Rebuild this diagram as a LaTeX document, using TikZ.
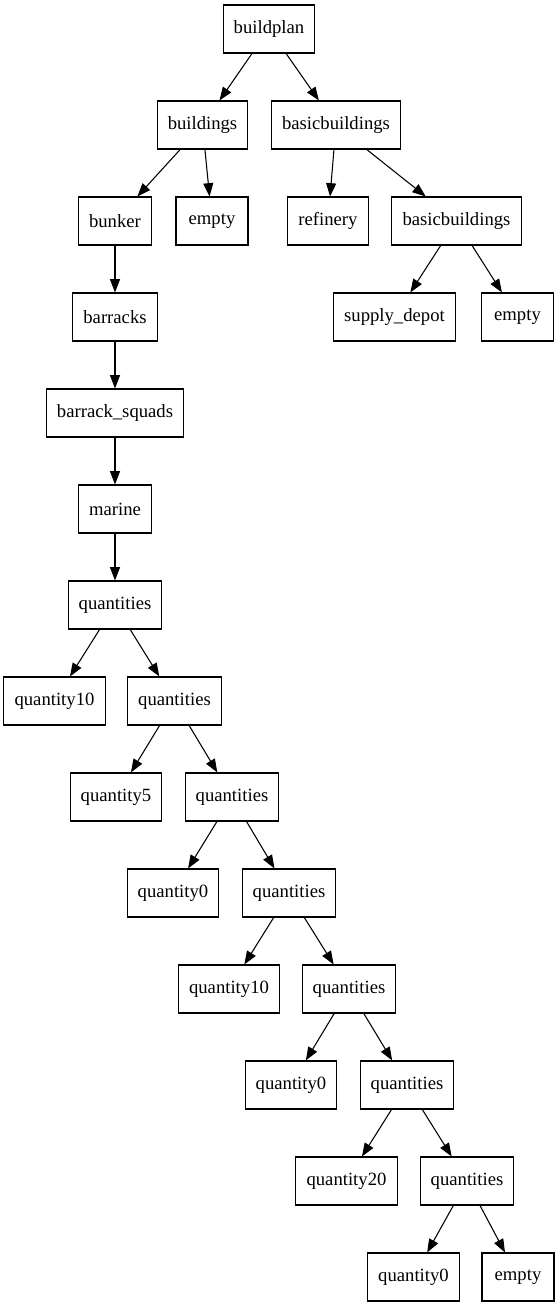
\documentclass[tikz,border=0pt]{standalone}
\usepackage{fontspec}
\setmainfont{Liberation Serif}
\usetikzlibrary{arrows.meta}
\begin{document}
\begin{tikzpicture}[x=0.75pt,y=-0.75pt,
  box/.style={draw,line width=0.8pt,rectangle,minimum height=36pt,minimum width=54pt,inner xsep=8pt,font=\fontsize{14pt}{16pt}\selectfont},
  edge/.style={line width=0.8pt,-{Triangle[length=10pt,width=7.5pt]}}]
\useasboundingbox (0,0) rectangle (560,1307);
\node[box] (bp) at (269,29) {buildplan};
\node[box] (bl) at (202.5,125) {buildings};
\node[box] (bb1) at (336,125) {basicbuildings};
\node[box] (bk) at (115,221) {bunker};
\node[box] (e1) at (212,221) {empty};
\node[box] (rf) at (328,221) {refinery};
\node[box] (bb2) at (456.5,221) {basicbuildings};
\node[box] (sd) at (394.5,317) {supply\_depot};
\node[box] (e2) at (517.5,317) {empty};
\node[box] (br) at (115,317) {barracks};
\node[box] (bs) at (115,413) {barrack\_squads};
\node[box] (mr) at (115,509) {marine};
\node[box] (q1) at (115,605) {quantities};
\node[box] (a1) at (54.5,701) {quantity10};
\node[box] (q2) at (174.5,701) {quantities};
\node[box] (a2) at (116,797) {quantity5};
\node[box] (q3) at (232,797) {quantities};
\node[box] (a3) at (173,893) {quantity0};
\node[box] (q4) at (289,893) {quantities};
\node[box] (a4) at (229,989) {quantity10};
\node[box] (q5) at (349,989) {quantities};
\node[box] (a5) at (291,1085) {quantity0};
\node[box] (q6) at (407,1085) {quantities};
\node[box] (a6) at (346.5,1181) {quantity20};
\node[box] (q7) at (467,1181) {quantities};
\node[box] (a7) at (413.5,1277) {quantity0};
\node[box] (e3) at (518,1277) {empty};
\draw[edge] (bp) -- (bl);
\draw[edge] (bp) -- (bb1);
\draw[edge] (bl) -- (bk);
\draw[edge] (bl) -- (e1);
\draw[edge] (bb1) -- (rf);
\draw[edge] (bb1) -- (bb2);
\draw[edge] (bb2) -- (sd);
\draw[edge] (bb2) -- (e2);
\draw[edge] (bk) -- (br);
\draw[edge] (br) -- (bs);
\draw[edge] (bs) -- (mr);
\draw[edge] (mr) -- (q1);
\draw[edge] (q1) -- (a1);
\draw[edge] (q1) -- (q2);
\draw[edge] (q2) -- (a2);
\draw[edge] (q2) -- (q3);
\draw[edge] (q3) -- (a3);
\draw[edge] (q3) -- (q4);
\draw[edge] (q4) -- (a4);
\draw[edge] (q4) -- (q5);
\draw[edge] (q5) -- (a5);
\draw[edge] (q5) -- (q6);
\draw[edge] (q6) -- (a6);
\draw[edge] (q6) -- (q7);
\draw[edge] (q7) -- (a7);
\draw[edge] (q7) -- (e3);
\end{tikzpicture}
\end{document}
